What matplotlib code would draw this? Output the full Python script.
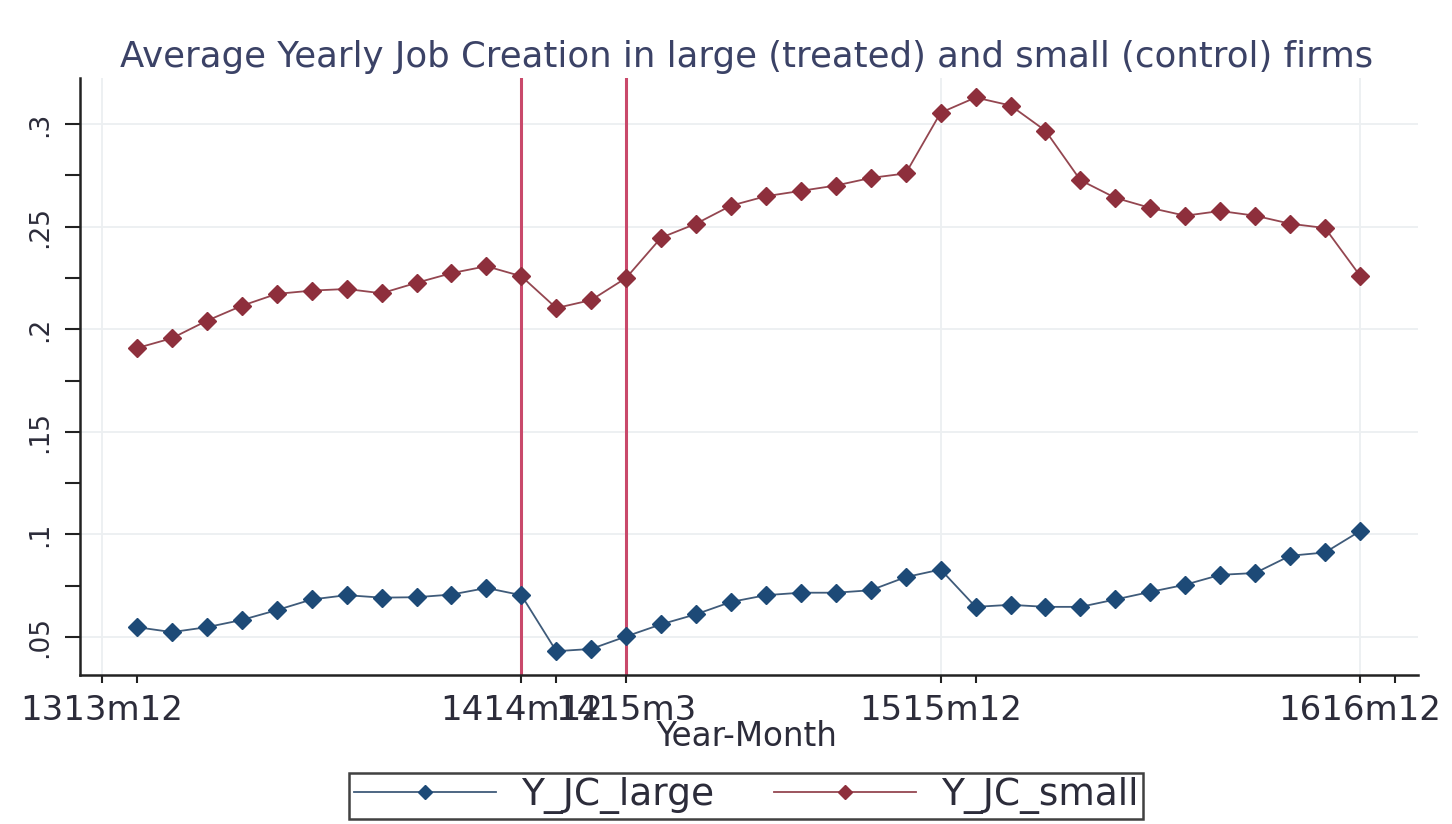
import matplotlib
matplotlib.use('Agg')
import matplotlib.pyplot as plt
from matplotlib.ticker import FixedLocator, FixedFormatter, NullFormatter

# ---- data ----
period_index = list(range(36))
y_jc_large = [0.0548, 0.0524, 0.0548, 0.0583, 0.0631, 0.0683, 0.0704, 0.0692, 0.0694,
              0.0707, 0.0739, 0.0704, 0.0431, 0.0442, 0.0503, 0.0562, 0.0611, 0.0671,
              0.0704, 0.0716, 0.0716, 0.0728, 0.0792, 0.0829, 0.0647, 0.0657, 0.0647,
              0.0647, 0.0683, 0.0720, 0.0755, 0.0803, 0.0812, 0.0896, 0.0912, 0.1016]
y_jc_small = [0.1908, 0.1956, 0.2041, 0.2114, 0.2172, 0.2188, 0.2196, 0.2175, 0.2226,
              0.2273, 0.2307, 0.2258, 0.2103, 0.2142, 0.2250, 0.2446, 0.2514, 0.2602,
              0.2648, 0.2674, 0.2700, 0.2737, 0.2759, 0.3055, 0.3129, 0.3090, 0.2967,
              0.2726, 0.2640, 0.2591, 0.2553, 0.2576, 0.2553, 0.2514, 0.2493, 0.2261]
x_tick_positions = [-1, 11, 14, 23, 35]
x_tick_labels = ['1313m12', '1414m12', '1415m3', '1515m12', '1616m12']
x_minor_positions = [0, 12, 24, 36]
y_tick_values = [0.05, 0.10, 0.15, 0.20, 0.25, 0.30]
y_tick_labels = ['.05', '.1', '.15', '.2', '.25', '.3']
y_minor_values = [0.075, 0.125, 0.175, 0.225, 0.275]
event_lines = [11, 14]
series_names = ['Y_JC_large', 'Y_JC_small']
title_text = 'Average Yearly Job Creation in large (treated) and small (control) firms'
x_label_text = 'Year-Month'

# ---- style ----
plt.rcParams['font.family'] = ['DejaVu Sans']
W, H = 1452, 824
fig = plt.figure(figsize=(W / 100, H / 100), dpi=100)
fig.patch.set_facecolor('white')
ax = fig.add_axes([80 / W, 1 - 675 / H, (1418 - 80) / W, (675 - 78) / H])

navy = '#1d4a77'
maroon = '#8e2f3c'
text_col = '#2c2c3a'

for xv in event_lines:
    ax.axvline(xv, color='#c9496b', lw=2.2, zorder=2)

ax.plot(period_index, y_jc_large, color='#3f5b7a', lw=1.3, marker='D', ms=9.5,
        mfc=navy, mec=navy, label=series_names[0], zorder=3)
ax.plot(period_index, y_jc_small, color='#944650', lw=1.3, marker='D', ms=9.5,
        mfc=maroon, mec=maroon, label=series_names[1], zorder=3)

ax.set_xlim(-1.63, 36.66)
ax.set_ylim(0.0315, 0.3224)

ax.xaxis.set_major_locator(FixedLocator(x_tick_positions))
ax.xaxis.set_major_formatter(FixedFormatter(x_tick_labels))
ax.xaxis.set_minor_locator(FixedLocator(x_minor_positions))
ax.xaxis.set_minor_formatter(NullFormatter())
ax.yaxis.set_major_locator(FixedLocator(y_tick_values))
ax.yaxis.set_major_formatter(FixedFormatter(y_tick_labels))
ax.yaxis.set_minor_locator(FixedLocator(y_minor_values))
ax.yaxis.set_minor_formatter(NullFormatter())

ax.tick_params(axis='x', which='both', length=6, width=1.5, color='#222222',
               labelsize=24.5, labelcolor=text_col, pad=8)
ax.tick_params(axis='y', which='both', length=11, width=1.5, color='#222222',
               labelsize=19, labelcolor=text_col, pad=18)
for lab in ax.get_yticklabels():
    lab.set_rotation(90)
    lab.set_va('center')
    lab.set_ha('center')

ax.grid(True, which='major', color='#eceff1', lw=1.3, zorder=0)
ax.set_axisbelow(True)
for s in ['top', 'right']:
    ax.spines[s].set_visible(False)
for s in ['left', 'bottom']:
    ax.spines[s].set_color('#222222')
    ax.spines[s].set_linewidth(1.8)

fig.text(747 / W, 1 - 57 / H, title_text, ha='center', va='center',
         fontsize=25.6, color='#3b4266')
fig.text(746 / W, 1 - 737 / H, x_label_text, ha='center', va='center',
         fontsize=23.5, color=text_col)

leg = fig.legend(loc='center', bbox_to_anchor=(746 / W, 1 - 796 / H), ncol=2,
                 frameon=True, fancybox=False, edgecolor='#111111', fontsize=27,
                 handlelength=3.8, handletextpad=0.65, columnspacing=1.6,
                 numpoints=1, borderpad=0.12, borderaxespad=0, markerscale=0.8)
leg.get_frame().set_linewidth(1.8)
for t in leg.get_texts():
    t.set_color(text_col)

fig.savefig('out.png', dpi=100, facecolor='white')
